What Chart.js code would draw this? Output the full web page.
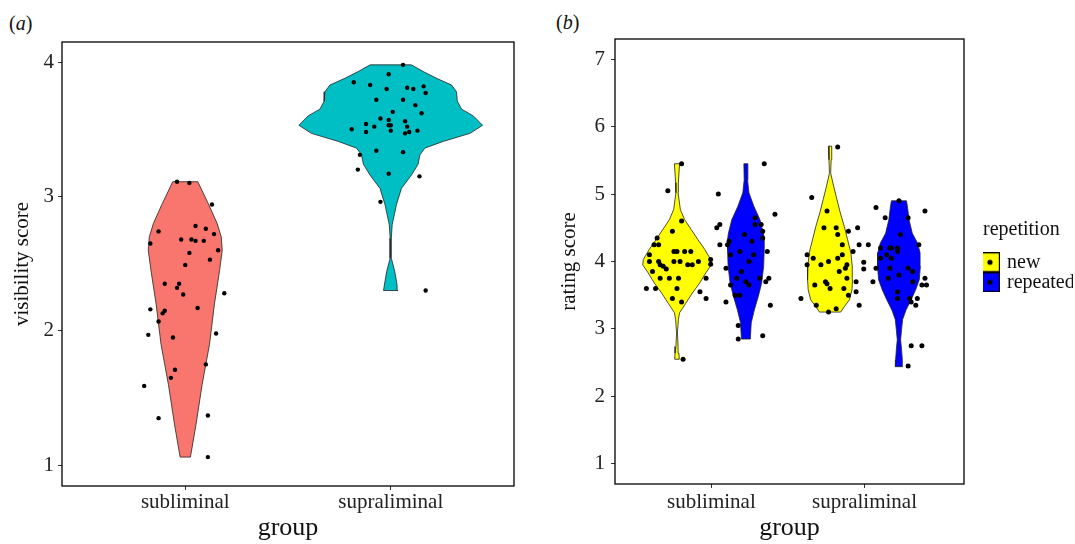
<!DOCTYPE html>
<html>
<head>
<meta charset="utf-8">
<script src="https://cdn.jsdelivr.net/npm/chart.js@4.4.1/dist/chart.umd.min.js"></script>
<style>
  html, body { margin: 0; padding: 0; background: #fff; overflow: hidden; }
  body { width: 1075px; height: 544px; position: relative; font-family: "Liberation Serif", "Times New Roman", serif; }
  .tag { position: absolute; font-size: 20px; line-height: 20px; color: #111; }
  canvas { position: absolute; top: 0; }
</style>
</head>
<body>
<div class="tag" style="left:9px;top:13px">(<i>a</i>)</div>
<div class="tag" style="left:556px;top:12px">(<i>b</i>)</div>
<canvas id="chartA" width="540" height="544" style="left:0"></canvas>
<canvas id="chartB" width="533" height="544" style="left:540px"></canvas>
<script>
const groups = ['subliminal', 'supraliminal'];
const repetition = ['new', 'repeated'];
const visTicks = [1, 2, 3, 4];
const ratingTicks = [1, 2, 3, 4, 5, 6, 7];

// (a) violin outlines: score level and half width (in group units)
const subVisLevels = [1.06, 1.3, 1.6, 1.9, 2.2, 2.45, 2.6, 2.7, 2.8, 2.95, 3.11];
const subVisHalf = [0.025, 0.052, 0.082, 0.118, 0.142, 0.167, 0.180, 0.175, 0.155, 0.111, 0.061];
const supVisLevels = [2.30, 2.34, 2.44, 2.54, 2.69, 2.79, 2.94, 3.06, 3.16, 3.24, 3.31, 3.36, 3.41, 3.47, 3.53, 3.60, 3.65, 3.71, 3.78, 3.83, 3.88, 3.93, 3.98];
const supVisHalf = [0.035, 0.031, 0.020, 0.003, 0.003, 0.007, 0.028, 0.052, 0.101, 0.133, 0.142, 0.166, 0.255, 0.386, 0.447, 0.402, 0.345, 0.324, 0.320, 0.296, 0.223, 0.158, 0.100];

// (a) jittered participants
const subVisScore = [3.11, 3.10, 2.94, 2.74, 2.78, 2.76, 2.72, 2.65, 2.68, 2.68, 2.67, 2.67, 2.60, 2.58, 2.53, 2.49, 2.35, 2.35, 2.32, 2.27, 2.28, 2.16, 2.15, 2.13, 2.17, 2.07, 1.97, 1.98, 1.95, 1.75, 1.71, 1.65, 1.59, 1.35, 1.37, 1.06];
const subVisJitter = [-0.04, 0.02, 0.13, -0.13, 0.05, 0.10, 0.14, -0.17, -0.02, 0.03, 0.05, 0.09, 0.16, 0.02, 0.12, 0.00, -0.10, -0.03, -0.04, -0.01, 0.19, -0.17, -0.10, -0.11, 0.06, -0.13, -0.18, 0.15, -0.06, 0.10, -0.05, -0.07, -0.20, -0.13, 0.11, 0.11];
const supVisScore = [3.98, 3.91, 3.85, 3.83, 3.80, 3.81, 3.80, 3.82, 3.77, 3.72, 3.72, 3.68, 3.62, 3.63, 3.58, 3.57, 3.54, 3.52, 3.53, 3.53, 3.56, 3.52, 3.50, 3.48, 3.49, 3.47, 3.48, 3.49, 3.34, 3.33, 3.31, 3.20, 3.17, 3.15, 2.96, 2.30];
const supVisJitter = [0.06, -0.01, -0.18, -0.10, -0.02, 0.08, 0.11, 0.16, 0.17, -0.07, 0.06, 0.12, 0.15, 0.01, -0.05, -0.01, -0.12, -0.08, -0.01, 0.00, 0.07, 0.08, -0.19, -0.12, 0.00, 0.07, 0.09, 0.13, -0.07, 0.06, -0.15, -0.16, -0.01, 0.14, -0.05, 0.17];

// (b) violin outlines
const newSubLevels = [2.55, 2.64, 2.74, 2.94, 3.14, 3.24, 3.38, 3.53, 3.68, 3.83, 3.95, 4.03, 4.18, 4.32, 4.47, 4.62, 4.77, 5.02, 5.17, 5.45];
const newSubHalf = [0.015, 0.013, 0.007, 0.003, 0.009, 0.017, 0.057, 0.100, 0.148, 0.188, 0.224, 0.220, 0.181, 0.138, 0.094, 0.050, 0.022, 0.007, 0.009, 0.017];
const repSubLevels = [2.85, 3.09, 3.28, 3.48, 3.68, 3.93, 4.18, 4.32, 4.42, 4.62, 4.82, 5.02, 5.21, 5.45];
const repSubHalf = [0.029, 0.035, 0.055, 0.081, 0.103, 0.116, 0.120, 0.120, 0.114, 0.092, 0.052, 0.020, 0.011, 0.013];
const newSupLevels = [3.25, 3.33, 3.43, 3.58, 3.73, 3.93, 4.13, 4.32, 4.52, 4.72, 4.92, 5.12, 5.31, 5.51, 5.71];
const newSupHalf = [0.069, 0.093, 0.126, 0.143, 0.147, 0.145, 0.136, 0.115, 0.093, 0.067, 0.045, 0.023, 0.004, 0.007, 0.011];
const repSupLevels = [2.44, 2.54, 2.69, 2.84, 2.99, 3.14, 3.28, 3.43, 3.58, 3.73, 3.93, 4.13, 4.27, 4.42, 4.62, 4.82, 4.90];
const repSupHalf = [0.023, 0.022, 0.017, 0.011, 0.017, 0.024, 0.046, 0.079, 0.109, 0.133, 0.140, 0.138, 0.122, 0.087, 0.066, 0.055, 0.049];

// (b) jittered participants
const newSubScore = [5.45, 5.05, 4.60, 4.45, 4.35, 4.25, 4.25, 4.10, 4.00, 4.00, 3.95, 3.93, 3.89, 3.85, 4.15, 4.15, 4.15, 4.15, 4.00, 4.00, 3.95, 3.95, 4.00, 4.03, 3.96, 3.75, 3.75, 3.75, 3.60, 3.60, 3.60, 3.75, 3.55, 3.45, 3.40, 3.45, 2.55];
const newSubJitter = [0.03, -0.06, 0.03, -0.03, -0.13, -0.15, -0.12, -0.18, -0.18, -0.12, -0.11, -0.09, -0.07, -0.16, -0.02, 0.00, 0.05, 0.09, -0.02, 0.02, 0.07, 0.10, 0.14, 0.22, 0.22, -0.11, -0.05, 0.01, -0.20, -0.14, 0.00, 0.19, 0.15, -0.03, 0.03, 0.19, 0.04];
const repSubScore = [5.45, 5.00, 4.70, 4.50, 4.55, 4.65, 4.55, 4.55, 4.45, 4.40, 4.35, 4.30, 4.25, 4.25, 4.30, 4.15, 4.15, 4.10, 4.10, 4.00, 3.90, 3.85, 3.75, 3.75, 3.75, 3.70, 3.70, 3.65, 3.65, 3.50, 3.50, 3.40, 3.35, 3.05, 2.85, 2.90];
const repSubJitter = [0.12, -0.18, 0.19, -0.19, -0.17, 0.06, 0.06, 0.10, 0.11, -0.01, 0.11, 0.04, -0.17, -0.12, -0.11, 0.14, -0.04, -0.10, 0.05, 0.02, -0.13, -0.03, -0.06, 0.09, 0.15, 0.13, 0.00, 0.02, -0.10, -0.07, -0.04, -0.13, 0.16, -0.05, -0.05, 0.11];
const newSupScore = [5.70, 4.95, 4.75, 4.50, 4.50, 4.40, 4.45, 4.50, 4.25, 4.15, 4.25, 4.10, 4.05, 4.10, 4.05, 4.00, 3.95, 3.95, 3.95, 3.90, 3.99, 3.89, 3.85, 3.75, 3.70, 3.67, 3.65, 3.60, 3.60, 3.70, 3.50, 3.55, 3.45, 3.35, 3.35, 3.30, 3.25];
const newSupJitter = [0.05, -0.12, -0.02, -0.04, 0.04, 0.05, 0.12, 0.18, 0.08, 0.15, 0.19, -0.15, -0.11, 0.08, 0.05, -0.01, -0.15, -0.06, 0.11, 0.10, 0.22, 0.22, 0.06, 0.11, -0.03, -0.02, -0.10, 0.00, 0.09, 0.17, 0.12, 0.17, -0.19, 0.19, -0.09, 0.04, -0.01];
const repSupScore = [2.45, 2.75, 2.75, 4.90, 4.80, 4.75, 4.65, 4.65, 4.40, 4.25, 4.20, 4.20, 4.20, 4.20, 4.15, 4.10, 4.05, 4.05, 3.90, 3.90, 3.90, 3.85, 3.80, 3.75, 3.75, 3.70, 3.65, 3.65, 3.70, 3.55, 3.45, 3.45, 3.40, 3.45, 3.35, 4.25];
const repSupJitter = [0.06, 0.08, 0.15, 0.00, -0.15, 0.17, -0.09, 0.06, 0.01, 0.13, -0.12, -0.06, -0.05, -0.01, -0.01, -0.08, -0.12, -0.05, -0.15, -0.06, 0.06, 0.09, 0.00, -0.07, 0.17, 0.09, 0.15, 0.18, -0.17, -0.01, -0.01, 0.07, 0.08, 0.12, 0.11, -0.20];

const serif = "'Liberation Serif', 'Times New Roman', serif";
Chart.defaults.font.family = serif;
Chart.defaults.color = '#222';
const DODGE = 0.225;

// mirror the half widths round the group centre to get a closed outline
function violin(center, levels, half) {
  const pts = [];
  for (let i = 0; i < levels.length; i++) pts.push({x: center + half[i], y: levels[i]});
  for (let i = levels.length - 1; i >= 0; i--) pts.push({x: center - half[i], y: levels[i]});
  pts.push({x: pts[0].x, y: pts[0].y});
  return pts;
}
function jitter(center, scores, offs) {
  return scores.map((s, i) => ({x: center + offs[i], y: s}));
}
function violinSet(pts, fill) {
  return {type: 'line', data: pts, fill: 'shape', backgroundColor: fill, borderColor: '#222',
    borderWidth: 0.8, pointRadius: 0, tension: 0, order: 2, yAxisID: 'y'};
}
function dotSet(pts, r) {
  return {type: 'scatter', data: pts, pointRadius: r, pointBackgroundColor: '#000',
    pointBorderWidth: 0, showLine: false, order: 0, yAxisID: 'y'};
}

const frame = {
  id: 'frame',
  afterDatasetsDraw(chart) {
    const {ctx, chartArea: a} = chart;
    ctx.save();
    ctx.strokeStyle = '#000';
    ctx.lineWidth = 1.3;
    ctx.strokeRect(a.left, a.top, a.right - a.left, a.bottom - a.top);
    ctx.restore();
  }
};

function xScale(min, max, h, pad) {
  return {
    type: 'linear', min: min, max: max,
    afterBuildTicks: s => { s.ticks = groups.map((g, i) => ({value: i + 1})); },
    ticks: {callback: (v, i) => groups[i], font: {size: 21}, color: '#222', padding: pad, maxRotation: 0, autoSkip: false},
    grid: {drawOnChartArea: false, tickLength: 4, color: '#333'},
    border: {display: false},
    title: {display: true, text: 'group', font: {size: 26}, color: '#111', padding: {top: 0, bottom: 0}},
    afterFit: s => { s.height = h; }
  };
}
function yScale(min, max, tickVals, label, w, pad, titlePad) {
  return {
    type: 'linear', min: min, max: max,
    afterBuildTicks: s => { s.ticks = tickVals.map(v => ({value: v})); },
    ticks: {font: {size: 21}, color: '#222', padding: pad},
    grid: {drawOnChartArea: false, tickLength: 4, color: '#333'},
    border: {display: false},
    title: {display: true, text: label, font: {size: 21}, color: '#111', padding: {top: titlePad, bottom: 0}},
    afterFit: s => { s.width = w; }
  };
}

new Chart(document.getElementById('chartA'), {
  type: 'scatter',
  data: {
    datasets: [
      dotSet(jitter(1, subVisScore, subVisJitter), 2.2),
      dotSet(jitter(2, supVisScore, supVisJitter), 2.2),
      violinSet(violin(1, subVisLevels, subVisHalf), '#F8766D'),
      violinSet(violin(2, supVisLevels, supVisHalf), '#00BFC4')
    ]
  },
  options: {
    responsive: false, animation: false, events: [],
    layout: {padding: {top: 42, right: 26, bottom: 0, left: 0}},
    plugins: {legend: {display: false}, tooltip: {enabled: false}},
    scales: {
      x: xScale(0.4, 2.6, 58, 0),
      y: yScale(0.845, 4.15, visTicks, 'visibility score', 62, 4, 9.7)
    }
  },
  plugins: [frame]
});

function keyIcon(fill) {
  const c = document.createElement('canvas');
  c.width = 20; c.height = 20;
  const g = c.getContext('2d');
  g.fillStyle = fill; g.fillRect(0, 0, 20, 20);
  g.strokeStyle = '#000'; g.lineWidth = 1.2; g.strokeRect(0.6, 0.6, 18.8, 18.8);
  g.fillStyle = '#000'; g.beginPath(); g.arc(10, 10, 2.6, 0, Math.PI * 2); g.fill();
  return c;
}
const keyFills = ['#FFFF00', '#0000FF'];
const keyIcons = keyFills.map(keyIcon);

new Chart(document.getElementById('chartB'), {
  type: 'scatter',
  data: {
    datasets: [
      dotSet(jitter(1 - DODGE, newSubScore, newSubJitter), 2.5),
      dotSet(jitter(1 + DODGE, repSubScore, repSubJitter), 2.5),
      dotSet(jitter(2 - DODGE, newSupScore, newSupJitter), 2.5),
      dotSet(jitter(2 + DODGE, repSupScore, repSupJitter), 2.5),
      violinSet(violin(1 - DODGE, newSubLevels, newSubHalf), keyFills[0]),
      violinSet(violin(1 + DODGE, repSubLevels, repSubHalf), keyFills[1]),
      violinSet(violin(2 - DODGE, newSupLevels, newSupHalf), keyFills[0]),
      violinSet(violin(2 + DODGE, repSupLevels, repSupHalf), keyFills[1])
    ]
  },
  options: {
    responsive: false, animation: false, events: [],
    layout: {padding: {top: 39, right: 0, bottom: 0, left: 0}},
    plugins: {
      tooltip: {enabled: false},
      legend: {
        display: true, position: 'right', align: 'center', fullSize: false, maxWidth: 90,
        title: {display: true, text: 'repetition', position: 'start', color: '#111',
          font: {size: 20}, padding: {top: -11, bottom: 8.5}},
        labels: {
          usePointStyle: true, pointStyleWidth: 14, boxHeight: 20, padding: 0,
          font: {size: 20}, color: '#111',
          generateLabels: () => repetition.map((r, i) => ({
            text: r, pointStyle: keyIcons[i], fillStyle: keyFills[i], strokeStyle: '#000',
            lineWidth: 0, hidden: false, datasetIndex: i
          }))
        }
      }
    },
    scales: {
      x: xScale(0.37, 2.65, 60, 2),
      y: yScale(0.7, 7.3, ratingTicks, 'rating score', 75, 6, 17.3),
      yr: {
        type: 'linear', position: 'right', display: true,
        grid: {display: false}, ticks: {display: false}, border: {display: false},
        afterFit: s => { s.width = 19; }
      }
    }
  },
  plugins: [frame]
});
</script>
</body>
</html>
